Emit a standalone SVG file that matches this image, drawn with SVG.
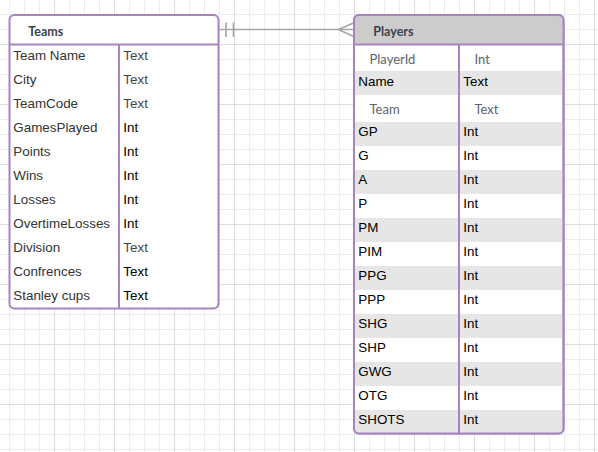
<svg xmlns="http://www.w3.org/2000/svg" width="598" height="452" viewBox="0 0 598 452">
<style>
.box{fill:#ffffff;stroke:#a884bf;stroke-width:2}
.sep{stroke:#a884bf;stroke-width:2;fill:none}
.hdr{font-family:Lato,"Liberation Sans",sans-serif;font-weight:bold;font-size:12.5px;fill:#3b4250}
.f{font-family:"Liberation Sans",Arial,sans-serif;font-size:13.4px;fill:#333333}
.k{fill:#000000}
.g{fill:#444444}
.l{font-family:Lato,"Liberation Sans",sans-serif;font-size:13px;fill:#5b6370}
.alt{fill:#e6e6e6}
.conn{stroke:#a6a6a6;stroke-width:1.7;fill:none}
</style>
<defs>
<pattern id="grid" x="54" y="44" width="60" height="60" patternUnits="userSpaceOnUse">
<path d="M15.5 0V60M30.5 0V60M45.5 0V60M0 15.5H60M0 30.5H60M0 45.5H60" stroke="#ededed" stroke-width="1"/>
<path d="M0.5 0V60M0 0.5H60" stroke="#dddddd" stroke-width="1"/>
</pattern>
<clipPath id="pclip"><rect x="354" y="15" width="209.5" height="418.5" rx="5"/></clipPath>
</defs>
<rect width="598" height="452" fill="#ffffff"/>
<rect width="598" height="452" fill="url(#grid)"/>

<g id="connectors">
<line class="conn" x1="219" y1="29.5" x2="354" y2="29.5"/>
<line class="conn" x1="226" y1="22.5" x2="226" y2="37"/>
<line class="conn" x1="233.5" y1="22.5" x2="233.5" y2="37"/>
<path class="conn" d="M354 22.7L338.5 29.5L354 36.7"/>
</g>

<g id="teams">
<rect class="box" x="9.5" y="15" width="209" height="293.5" rx="5"/>
<line class="sep" x1="9.5" y1="44.5" x2="218.5" y2="44.5"/>
<line class="sep" x1="119" y1="44.5" x2="119" y2="308.5"/>
<text class="hdr" x="28.3" y="36">Teams</text>
<text class="f" x="13.3" y="60">Team Name</text><text class="f g" x="123.3" y="60">Text</text>
<text class="f" x="13.3" y="84">City</text><text class="f g" x="123.3" y="84">Text</text>
<text class="f" x="13.3" y="108">TeamCode</text><text class="f g" x="123.3" y="108">Text</text>
<text class="f" x="13.3" y="132">GamesPlayed</text><text class="f k" x="123.3" y="132">Int</text>
<text class="f" x="13.3" y="156">Points</text><text class="f k" x="123.3" y="156">Int</text>
<text class="f" x="13.3" y="180">Wins</text><text class="f k" x="123.3" y="180">Int</text>
<text class="f" x="13.3" y="204">Losses</text><text class="f k" x="123.3" y="204">Int</text>
<text class="f" x="13.3" y="228">OvertimeLosses</text><text class="f k" x="123.3" y="228">Int</text>
<text class="f" x="13.3" y="252">Division</text><text class="f g" x="123.3" y="252">Text</text>
<text class="f" x="13.3" y="276">Confrences</text><text class="f k" x="123.3" y="276">Text</text>
<text class="f" x="13.3" y="300">Stanley cups</text><text class="f k" x="123.3" y="300">Text</text>
</g>

<g id="players">
<rect class="box" x="354" y="15" width="209.5" height="418.5" rx="5"/>
<g clip-path="url(#pclip)">
<rect x="354" y="15" width="209.5" height="29.5" fill="#cccccc"/>
<rect class="alt" x="355" y="71" width="207.5" height="24"/>
<rect class="alt" x="355" y="122" width="207.5" height="24"/>
<rect class="alt" x="355" y="170" width="207.5" height="24"/>
<rect class="alt" x="355" y="218" width="207.5" height="24"/>
<rect class="alt" x="355" y="266" width="207.5" height="24"/>
<rect class="alt" x="355" y="314" width="207.5" height="24"/>
<rect class="alt" x="355" y="362" width="207.5" height="24"/>
<rect class="alt" x="355" y="410" width="207.5" height="24"/>
</g>
<rect x="354" y="15" width="209.5" height="418.5" rx="5" fill="none" stroke="#a884bf" stroke-width="2"/>
<line class="sep" x1="354" y1="44.5" x2="563.5" y2="44.5"/>
<line class="sep" x1="459" y1="44.5" x2="459" y2="433.5"/>
<text class="hdr" x="373.3" y="36">Players</text>
<text class="l" x="369.5" y="64">PlayerId</text><text class="l" x="474.5" y="64">Int</text>
<text class="f k" x="358.3" y="86">Name</text><text class="f k" x="463.3" y="86">Text</text>
<text class="l" x="369.5" y="114.3">Team</text><text class="l" x="474.5" y="114.3">Text</text>
<text class="f k" x="358.3" y="136.3">GP</text><text class="f k" x="463.3" y="136.3">Int</text>
<text class="f k" x="358.3" y="160.3">G</text><text class="f k" x="463.3" y="160.3">Int</text>
<text class="f k" x="358.3" y="184.3">A</text><text class="f k" x="463.3" y="184.3">Int</text>
<text class="f k" x="358.3" y="208.3">P</text><text class="f k" x="463.3" y="208.3">Int</text>
<text class="f k" x="358.3" y="232.3">PM</text><text class="f k" x="463.3" y="232.3">Int</text>
<text class="f k" x="358.3" y="256.3">PIM</text><text class="f k" x="463.3" y="256.3">Int</text>
<text class="f k" x="358.3" y="280.3">PPG</text><text class="f k" x="463.3" y="280.3">Int</text>
<text class="f k" x="358.3" y="304.3">PPP</text><text class="f k" x="463.3" y="304.3">Int</text>
<text class="f k" x="358.3" y="328.3">SHG</text><text class="f k" x="463.3" y="328.3">Int</text>
<text class="f k" x="358.3" y="352.3">SHP</text><text class="f k" x="463.3" y="352.3">Int</text>
<text class="f k" x="358.3" y="376.3">GWG</text><text class="f k" x="463.3" y="376.3">Int</text>
<text class="f k" x="358.3" y="400.3">OTG</text><text class="f k" x="463.3" y="400.3">Int</text>
<text class="f k" x="358.3" y="424.3">SHOTS</text><text class="f k" x="463.3" y="424.3">Int</text>
</g>
</svg>
